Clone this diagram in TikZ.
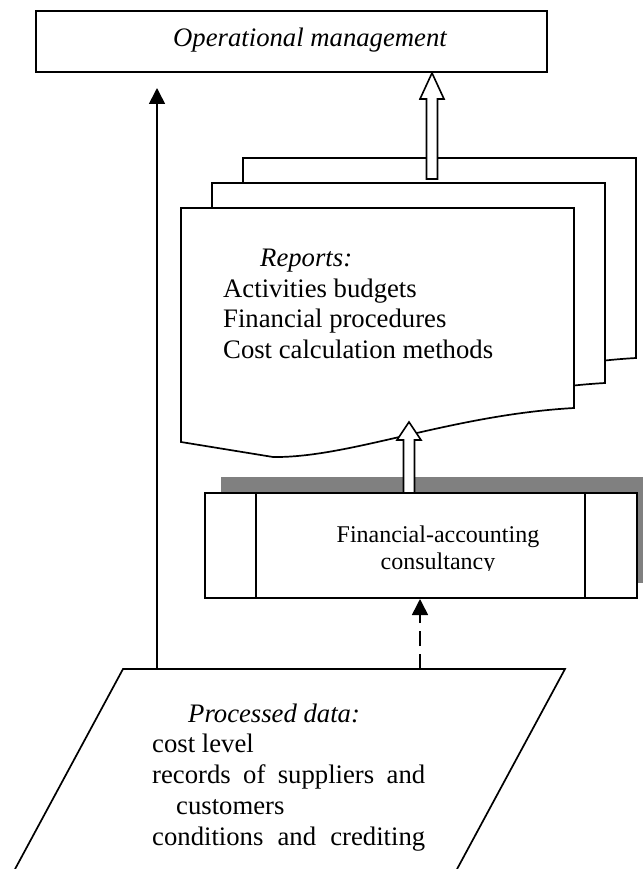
\documentclass[tikz,border=0pt]{standalone}
\usepackage{fontspec}
\setmainfont{Liberation Serif}
\usetikzlibrary{arrows.meta,calc}
\begin{document}
\begin{tikzpicture}[x=1pt,y=-1pt,line join=miter,
  boxstyle/.style={draw,line width=2pt,fill=white,inner sep=0pt},
  docstyle/.style={draw,line width=1.7pt,fill=white},
  hollow/.style={draw,line width=1.6pt,fill=white},
  pline/.style={draw,line width=1.7pt},
  solidarrow/.style={line width=1.6pt,-{Triangle[length=16pt,width=16pt]}},
  dasharrow/.style={line width=1.6pt,dash pattern=on 15pt off 8pt,-{Triangle[length=16pt,width=16pt]}},
  txt/.style={anchor=base west,inner sep=0pt,font=\fontsize{26.7pt}{30pt}\selectfont},
  itxt/.style={anchor=base west,inner sep=0pt,font=\fontsize{26.7pt}{30pt}\selectfont\itshape},
  ftxt/.style={anchor=base,inner sep=0pt,font=\fontsize{24pt}{28pt}\selectfont}]
\useasboundingbox (0,0) rectangle (643,869);

% top box
\node[boxstyle,minimum width=511pt,minimum height=61pt] (op) at (291.5,41.5) {};
\node[itxt] (opT) at (173,47) {Operational management};

% multi-document
\foreach \dx/\dy in {62/50,31/25,0/0}{
  \draw[docstyle,shift={(\dx,-\dy)}] (181,208) -- (574,208) -- (574,408)
    .. controls (450,415) and (350,458) .. (273,457) -- (181,442) -- cycle;
}
\node[itxt] (rep) at (260,266) {Reports:};
\node[txt] (r1) at (223,297) {Activities budgets};
\node[txt] (r2) at (223,327) {Financial procedures};
\node[txt] (r3) at (223,358) {Cost calculation methods};

% hollow arrow docs -> op
\coordinate (docA) at (432,179);
\coordinate (opB) at (432,73);
\draw[hollow] ($(docA)+(-5.5,0)$) -- ($(opB)+(-5.5,26)$) -- ($(opB)+(-12,26)$) -- (opB)
  -- ($(opB)+(12,26)$) -- ($(opB)+(5.5,26)$) -- ($(docA)+(5.5,0)$) -- cycle;

% process box with shadow
\fill[black!50] (221,477) rectangle (643,583);
\node[boxstyle,minimum width=432pt,minimum height=105pt] (fac) at (421,545.5) {};
\draw[line width=1.7pt] ($(fac.north west)+(52,0)$) -- ($(fac.south west)+(52,0)$);
\draw[line width=1.7pt] ($(fac.north east)+(-53,0)$) -- ($(fac.south east)+(-53,0)$);
\begin{scope}
  \clip (258,494) rectangle (583,570);
  \node[ftxt] (f1) at (438,542) {Financial-accounting};
  \node[ftxt] (f2) at (438,569) {consultancy};
\end{scope}

% hollow arrow fac -> docs
\coordinate (facA) at (409,493);
\coordinate (docB) at (409,422);
\draw[hollow] ($(facA)+(-5.5,0)$) -- ($(docB)+(-5.5,18)$) -- ($(docB)+(-12,18)$) -- (docB)
  -- ($(docB)+(12,18)$) -- ($(docB)+(5.5,18)$) -- ($(facA)+(5.5,0)$) -- cycle;

% processed data parallelogram
\coordinate (pdSW) at (14,871);
\coordinate (pdNW) at (123,669);
\coordinate (pdNE) at (565,669);
\coordinate (pdSE) at (456,871);
\draw[pline] (pdSW) -- (pdNW) -- (pdNE) -- (pdSE);
\node[itxt] (pd0) at (188,722) {Processed data:};
\node[txt] (pd1) at (152,752) {cost level};
\node[txt] (pd2) at (152,783) {\hbox to 273pt{records\hfill of\hfill suppliers\hfill and}};
\node[txt] (pd3) at (176,814) {customers};
\node[txt] (pd4) at (152,845) {\hbox to 273pt{conditions\hfill and\hfill crediting}};

% connectors
\coordinate (pdA) at (157,669);
\coordinate (opA) at (157,88);
\draw[solidarrow] (pdA) -- (opA);
\coordinate (pdB) at (420,669);
\draw[dasharrow] (pdB) -- (pdB |- fac.south);
\end{tikzpicture}
\end{document}
